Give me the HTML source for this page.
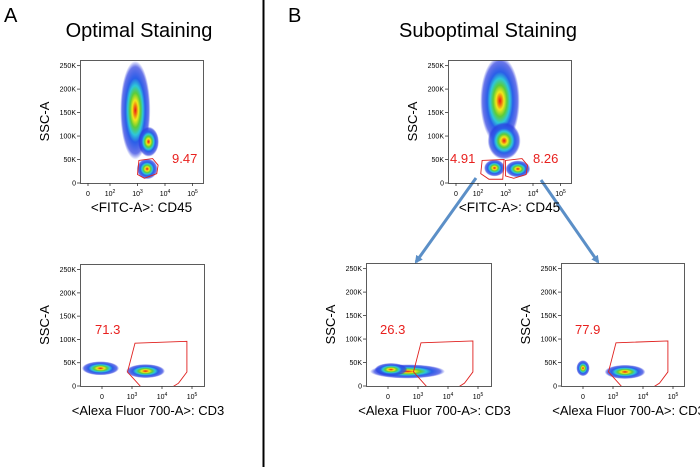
<!DOCTYPE html>
<html><head><meta charset="utf-8"><style>
html,body{margin:0;padding:0;background:#fff;}
svg{display:block;font-family:"Liberation Sans",sans-serif;}
</style></head><body>
<svg id="fig" width="700" height="467" viewBox="0 0 700 467">
<defs>
<radialGradient id="dens" cx="50%" cy="50%" r="50%">
<stop offset="0" stop-color="#e8141a"/>
<stop offset="0.1" stop-color="#f07a10"/>
<stop offset="0.2" stop-color="#f2e81a"/>
<stop offset="0.35" stop-color="#5ccc3a"/>
<stop offset="0.5" stop-color="#2ec8d8"/>
<stop offset="0.65" stop-color="#2a5fe8"/>
<stop offset="0.88" stop-color="#2a3ce0" stop-opacity="0.7"/>
<stop offset="1" stop-color="#2a3ce0" stop-opacity="0"/>
</radialGradient>
<marker id="ah" markerWidth="8" markerHeight="8" refX="6" refY="4" orient="auto" markerUnits="userSpaceOnUse"><path d="M0,0 L8,4 L0,8 Z" fill="#5b8fc7"/></marker>
</defs>
<text x="4" y="22" font-size="20">A</text>
<text x="139" y="37" font-size="20" text-anchor="middle">Optimal Staining</text>
<text x="288" y="22" font-size="20">B</text>
<text x="488" y="37" font-size="20" text-anchor="middle">Suboptimal Staining</text>
<line x1="263.5" y1="0" x2="263.5" y2="467" stroke="#000" stroke-width="2"/>
<line x1="476" y1="178" x2="416" y2="262" stroke="#5b8fc7" stroke-width="3" marker-end="url(#ah)"/>
<line x1="541" y1="180" x2="598" y2="262" stroke="#5b8fc7" stroke-width="3" marker-end="url(#ah)"/>
</svg>
<script>
// ---- data ----
const yTicks = [0, 50, 100, 150, 200, 250];
const yTickLabels = ["0", "50K", "100K", "150K", "200K", "250K"];
const xTicksTop = [1.2, 2, 3, 4, 5];
const xTicksBottom = [2, 3, 4, 5];
const xTickLabelsTop = ["0", "10^2", "10^3", "10^4", "10^5"];
const xTickLabelsBottom = ["0", "10^3", "10^4", "10^5"];
// populations: [u(log10), yK, spreadX(decades), spreadY(K)]
const popsA1 = [[2.92, 155, 0.55, 105], [3.4, 88, 0.38, 32], [3.35, 30, 0.38, 22]];
const popsB1 = [[2.8, 175, 0.72, 95], [2.95, 90, 0.6, 40], [2.6, 32, 0.38, 18], [3.45, 30, 0.45, 18]];
const popsA2 = [[1.95, 38, 0.62, 15], [3.45, 32, 0.65, 15]];
const popsB2 = [[2.65, 31, 1.25, 15], [2.1, 35, 0.55, 14]];
const popsB3 = [[2.0, 38, 0.22, 17], [3.4, 30, 0.68, 15]];
const gateA1 = [[3.05, 48], [3.55, 52], [3.75, 38], [3.7, 20], [3.25, 10], [3.0, 18]];
const gateB1L = [[2.15, 48], [2.95, 50], [2.9, 8], [2.4, 8], [2.1, 20]];
const gateB1R = [[3.0, 48], [3.6, 52], [3.8, 38], [3.75, 18], [3.3, 10], [3.0, 15]];
const gateCD3 = [[3.1, 92], [4.83, 96], [4.83, 30], [4.55, 6], [4.35, -2], [3.3, -2], [2.85, 30]];
const labelsA1 = ["9.47"], labelsB1 = ["4.91", "8.26"], labelsA2 = ["71.3"], labelsB2 = ["26.3"], labelsB3 = ["77.9"];

const NS = "http://www.w3.org/2000/svg";
const svg = document.getElementById("fig");
function mk(tag, attrs, parent) {
  const e = document.createElementNS(NS, tag);
  for (const k in attrs) e.setAttribute(k, attrs[k]);
  (parent || svg).appendChild(e);
  return e;
}
function supLabel(t, s) {
  if (s.indexOf("^") < 0) { t.textContent = s; return; }
  const p = s.split("^");
  const a = document.createElementNS(NS, "tspan"); a.textContent = p[0]; t.appendChild(a);
  const b = document.createElementNS(NS, "tspan"); b.setAttribute("dy", "-3"); b.setAttribute("font-size", "5"); b.textContent = p[1]; t.appendChild(b);
}
function plot(name, L, T, W, H, top, pops, gates, labels, labelPos, xtitle) {
  const g = mk("g", {});
  
  
  const x0 = top ? L + 30 : L + 22, dec = top ? 27.5 : 30, u0 = 2;
  const xs = u => x0 + (u - u0) * dec;
  const ys = v => T + H - v / 262 * H;
  const clipId = name + "-clip";
  const cp = mk("clipPath", { id: clipId }, g);
  mk("rect", { x: L, y: T, width: W, height: H }, cp);
  const marks = mk("g", { "clip-path": "url(#" + clipId + ")" }, g);
  pops.forEach(p => {
    const e = mk("ellipse", { cx: xs(p[0]), cy: ys(p[1]), rx: p[2] * dec, ry: p[3] / 262 * H, fill: "url(#dens)" }, marks);
    
    
  });
  gates.forEach(gt => {
    const pg = mk("polygon", { points: gt.map(q => xs(q[0]) + "," + ys(q[1])).join(" "), fill: "none", stroke: "#e0201e", "stroke-width": 0.9 }, marks);
    
    
  });
  const fr = mk("rect", { x: L + 0.5, y: T + 0.5, width: W, height: H, fill: "none", stroke: "#333", "stroke-width": 0.8 }, g);
  
  
  yTicks.forEach((v, i) => {
    mk("line", { x1: L - 3, x2: L, y1: ys(v), y2: ys(v), stroke: "#333", "stroke-width": 0.8 }, g);
    const t = mk("text", { x: L - 4, y: ys(v) + 2.5, "font-size": 7, "text-anchor": "end" }, g);
    t.textContent = yTickLabels[i];
    
    
  });
  const xt = top ? xTicksTop : xTicksBottom, xl = top ? xTickLabelsTop : xTickLabelsBottom;
  xt.forEach((u, i) => {
    const px = top && i === 0 ? L + 8 : (!top && i === 0 ? x0 : xs(u));
    mk("line", { x1: px, x2: px, y1: T + H, y2: T + H + 3, stroke: "#333", "stroke-width": 0.8 }, g);
    const t = mk("text", { x: px, y: T + H + 13, "font-size": 7, "text-anchor": "middle" }, g);
    supLabel(t, xl[i]);
    
    
  });
  const yt = mk("text", { x: 0, y: 0, "font-size": 13, "text-anchor": "middle", transform: "translate(" + (L - 31) + "," + (T + H / 2) + ") rotate(-90)" }, g);
  yt.textContent = "SSC-A";
  
  
  const xT = mk("text", { x: L + W / 2 + (top ? 0 : 6), y: T + H + 29, "font-size": top ? 13.5 : 13, "text-anchor": "middle" }, g);
  xT.textContent = xtitle;
  
  
  labels.forEach((s, i) => {
    const t = mk("text", { x: labelPos[i][0], y: labelPos[i][1], "font-size": 13, fill: "#e8201e" }, g);
    t.textContent = s;
    
    
  });
}
plot("plot-a-cd45", 80, 60, 123, 123, true, popsA1, [gateA1], labelsA1, [[172, 163]], "<FITC-A>: CD45");
plot("plot-b-cd45", 448, 60, 123, 123, true, popsB1, [gateB1L, gateB1R], labelsB1, [[450, 163], [533, 163]], "<FITC-A>: CD45");
plot("plot-a-cd3", 80, 264, 124, 122, false, popsA2, [gateCD3], labelsA2, [[95, 334]], "<Alexa Fluor 700-A>: CD3");
plot("plot-b-cd3-left", 366, 263, 125, 123, false, popsB2, [gateCD3], labelsB2, [[380, 334]], "<Alexa Fluor 700-A>: CD3");
plot("plot-b-cd3-right", 561, 263, 123, 123, false, popsB3, [gateCD3], labelsB3, [[575, 334]], "<Alexa Fluor 700-A>: CD3");
</script>
</body></html>
